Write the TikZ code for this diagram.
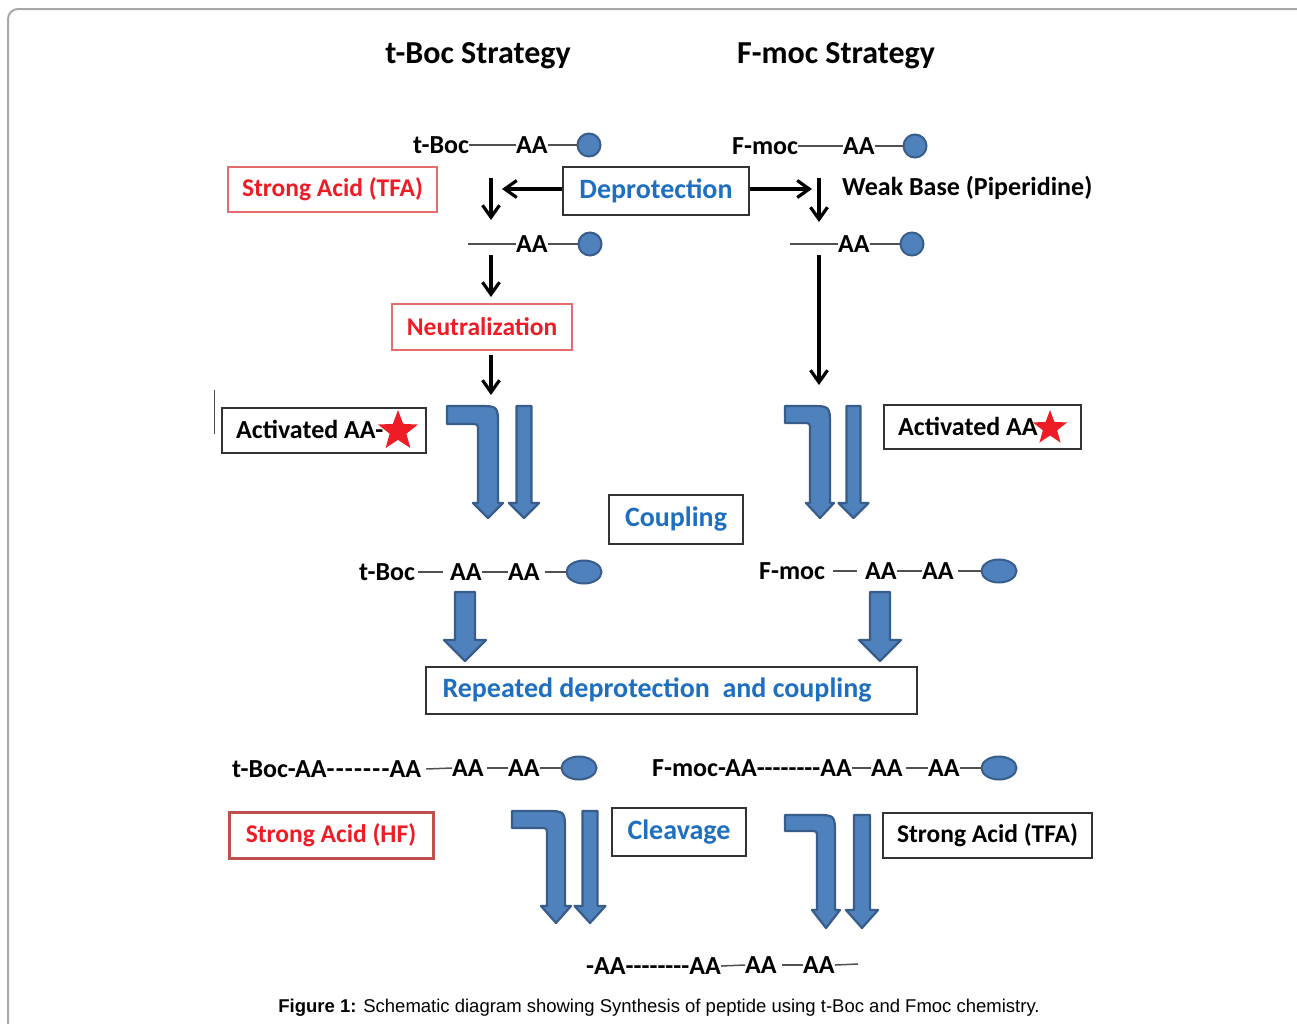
\documentclass[tikz,border=0pt]{standalone}
\usepackage{fontspec}
\setmainfont{Carlito}
\newfontfamily\capfont{Liberation Sans}
\usetikzlibrary{arrows.meta,shapes.geometric}

\definecolor{ttred}{HTML}{EE1C25}
\definecolor{boxred}{HTML}{E36C6C}
\definecolor{hfred}{HTML}{C0504D}
\definecolor{ttblue}{HTML}{1F6FC0}
\definecolor{arrowfill}{HTML}{4F81BD}
\definecolor{arrowedge}{HTML}{385D8A}
\definecolor{bondgray}{HTML}{505050}
\definecolor{framegray}{HTML}{A8A8A8}

% single hyphen kept apart from its neighbours (no dash ligatures)
\newcommand{\hy}{\mbox{-}}
\newcommand{\hyw}{\mbox{-}\kern1.2pt}
% bent block arrow: left end, top, bar thickness, shaft centre, shaft half width,
% head half width, head start, tip
\newcommand{\bentblock}[8]{%
  \draw[blockarrow] (#1,#2) -- ({#4+#5-20},#2) .. controls ({#4+#5},#2) .. ({#4+#5},{#2+20})
    -- ({#4+#5},#7) -- ({#4+#6},#7) -- (#4,#8) -- ({#4-#6},#7) -- ({#4-#5},#7)
    -- ({#4-#5},{#2+#3+7}) .. controls ({#4-#5},{#2+#3}) .. ({#4-#5-7},{#2+#3})
    -- (#1,{#2+#3}) -- cycle;}
% straight block arrow: shaft centre, shaft half width, head half width, top, head start, tip
\newcommand{\straightblock}[6]{%
  \draw[blockarrow] ({#1-#2},#4) -- ({#1+#2},#4) -- ({#1+#2},#5) -- ({#1+#3},#5)
    -- (#1,#6) -- ({#1-#3},#5) -- ({#1-#2},#5) -- cycle;}

\begin{document}
\begin{tikzpicture}[x=1pt,y=-1pt,
  chem/.style={inner sep=0pt, anchor=west, font=\fontsize{26}{29}\selectfont\bfseries},
  heading/.style={inner sep=0pt, font=\fontsize{32}{35}\selectfont\bfseries},
  bondline/.style={draw=bondgray, line width=1.5pt},
  bead/.style={circle, draw=arrowedge, fill=arrowfill, line width=2pt, minimum size=23pt, inner sep=0pt},
  flatbead/.style={ellipse, draw=arrowedge, fill=arrowfill, line width=2pt, minimum width=35pt, minimum height=23pt, inner sep=0pt},
  plainbox/.style={draw=black!80, line width=1.2pt, inner sep=0pt, fill=white},
  redbox/.style={draw=boxred, line width=1.5pt, inner sep=0pt, text=ttred, font=\fontsize{25.5}{28}\selectfont\bfseries},
  bluetext/.style={inner sep=0pt, text=ttblue, font=\fontsize{28}{32}\selectfont\bfseries},
  bluebox/.style={plainbox, bluetext},
  blackbox/.style={plainbox, font=\fontsize{25.5}{28}\selectfont\bfseries},
  flow/.style={line width=3.2pt, -{Straight Barb[length=12pt,width=17pt,line width=3.2pt]}},
  blockarrow/.style={draw=arrowedge, fill=arrowfill, line width=2.2pt, line join=round},
  redstar/.style={star, star points=5, star point ratio=2.4, fill=ttred, draw=none, inner sep=0pt}
]
\useasboundingbox (0,0) rectangle (1297,1023);
\fill[white] (0,0) rectangle (1297,1023);
\draw[framegray, line width=2pt, rounded corners=10pt] (8,9) rectangle (1330,1050);

% headings
\node[heading] (hboc) at (478,56) {t-Boc Strategy};
\node[heading] (hfmoc) at (836,56) {F-moc Strategy};

% protected amino acids on resin
\node[chem] (tb1) at (413,145) {t-Boc};
\node[chem] (aa1) at (516,145) {AA};
\node[bead] (bd1) at (589,145) {};
\draw[bondline] (tb1.east) -- (aa1.west);
\draw[bondline] (aa1.east) -- (bd1.west);

\node[chem] (fm1) at (732,146) {F-moc};
\node[chem] (aa2) at (843,146) {AA};
\node[bead] (bd2) at (915,146) {};
\draw[bondline] (fm1.east) -- (aa2.west);
\draw[bondline] (aa2.east) -- (bd2.west);

% deprotection
\node[redbox, minimum width=209pt, minimum height=45pt] (sa1) at (332.5,189.5) {Strong Acid (TFA)};
\node[bluebox, minimum width=186pt, minimum height=48pt] (dep) at (656,191) {Deprotection};
\node[chem] (wb) at (842,188) {Weak Base (Piperidine)};

\coordinate (l1a) at (491,178);
\coordinate (l1b) at (491,220);
\coordinate (r1a) at (819,178);
\coordinate (r1b) at (819,222);
\coordinate (depl) at (502,189);
\coordinate (depr) at (812,189);
\draw[flow] (l1a) -- (l1b);
\draw[flow] (r1a) -- (r1b);
\draw[flow] (dep.west |- depl) -- (depl);
\draw[flow] (dep.east |- depr) -- (depr);

% free amines
\coordinate (n1) at (468,244);
\node[chem] (aa3) at (516,244) {AA};
\node[bead] (bd3) at (590,244) {};
\draw[bondline] (n1) -- (aa3.west);
\draw[bondline] (aa3.east) -- (bd3.west);

\coordinate (n2) at (790,244);
\node[chem] (aa4) at (838,244) {AA};
\node[bead] (bd4) at (912,244) {};
\draw[bondline] (n2) -- (aa4.west);
\draw[bondline] (aa4.east) -- (bd4.west);

% neutralization
\node[redbox, minimum width=180pt, minimum height=46pt] (neut) at (482,327) {Neutralization};
\coordinate (l2a) at (491,255);
\coordinate (l2b) at (491,297);
\coordinate (l3a) at (491,355);
\coordinate (l3b) at (491,395);
\coordinate (r2a) at (819,255);
\coordinate (r2b) at (819,385);
\draw[flow] (l2a) -- (l2b);
\draw[flow] (l3a) -- (l3b);
\draw[flow] (r2a) -- (r2b);

% activated amino acids
\draw[black!70, line width=1pt] (214,390) -- (214,434);
\node[plainbox, minimum width=204pt, minimum height=45pt] (act1) at (324,430.5) {};
\node[chem] (act1t) at (236,429) {Activated AA-};
\node[redstar, minimum size=42pt] (st1) at (398,431) {};

\node[plainbox, minimum width=197pt, minimum height=44pt] (act2) at (982.5,427) {};
\node[chem] (act2t) at (898,426) {Activated AA};
\node[redstar, minimum size=36pt] (st2) at (1050,428) {};

% coupling
\bentblock{447}{406}{18}{488}{10}{15}{503}{518}
\straightblock{524}{7.5}{15}{406}{503}{518}
\bentblock{785}{406}{17}{820}{10}{14}{503}{518}
\straightblock{853.5}{7}{15}{406}{503}{518}
\node[bluebox, minimum width=134pt, minimum height=49pt] (coup) at (676,519.5) {Coupling};

% dipeptides
\node[chem] (tb3) at (359,572) {t-Boc};
\node[chem] (aa5) at (450,572) {AA};
\node[chem] (aa6) at (508,572) {AA};
\node[flatbead] (bd5) at (584,572) {};
\draw[bondline] ([xshift=3pt]tb3.east) -- ([xshift=-7pt]aa5.west);
\draw[bondline] (aa5.east) -- (aa6.west);
\draw[bondline] ([xshift=5pt]aa6.east) -- (bd5.west);

\node[chem] (fm3) at (759,571) {F-moc};
\node[chem] (aa7) at (865,571) {AA};
\node[chem] (aa8) at (922,571) {AA};
\node[flatbead] (bd6) at (999,571) {};
\draw[bondline] ([xshift=8pt]fm3.east) -- ([xshift=-8pt]aa7.west);
\draw[bondline] (aa7.east) -- (aa8.west);
\draw[bondline] ([xshift=4pt]aa8.east) -- (bd6.west);

% repetition
\straightblock{465}{10}{21}{592}{640}{661}
\straightblock{880}{10}{21}{592}{640}{661}
\node[plainbox, minimum width=491pt, minimum height=47pt] (rep) at (671.5,690.5) {};
\node[bluetext] (rept) at (657,690.5) {Repeated deprotection\ \ and coupling};

% full peptide chains
\node[chem] (ch1) at (232,769) {t-Boc-AA\hyw\hyw\hyw\hyw\hyw\hyw\hy AA};
\node[chem] (aa9) at (452,768) {AA};
\node[chem] (aa10) at (508,768) {AA};
\node[flatbead] (bd7) at (579,768) {};
\draw[bondline] ([xshift=5pt]ch1.east) -- (aa9.west);
\draw[bondline] ([xshift=3pt]aa9.east) -- (aa10.west);
\draw[bondline] (aa10.east) -- (bd7.west);

\node[chem] (ch2) at (652,768) {F-moc-AA\hy\hy\hy\hy\hy\hy\hy\hy AA};
\node[chem] (aa11) at (871,768) {AA};
\node[chem] (aa12) at (928,768) {AA};
\node[flatbead] (bd8) at (999,768) {};
\draw[bondline] (ch2.east) -- (aa11.west);
\draw[bondline] ([xshift=3pt]aa11.east) -- (aa12.west);
\draw[bondline] (aa12.east) -- (bd8.west);

% cleavage
\node[redbox, draw=hfred, line width=3pt, minimum width=204pt, minimum height=46pt] (hf) at (331,835) {Strong Acid (HF)};
\bentblock{512}{811}{17}{556}{9}{15}{906}{923}
\straightblock{590}{7.5}{15.5}{811}{906}{923}
\node[bluebox, minimum width=134pt, minimum height=48pt] (clv) at (679,832) {Cleavage};
\bentblock{785}{815}{16}{826}{9}{14}{910}{928}
\straightblock{862}{8}{16}{815}{910}{928}
\node[blackbox, minimum width=209pt, minimum height=45pt] (sa2) at (987.5,835.5) {Strong Acid (TFA)};

% free peptide
\node[chem] (ch3) at (586,966) {\hy AA\hy\hy\hy\hy\hy\hy\hy\hy AA};
\node[chem] (aa13) at (745,965) {AA};
\node[chem] (aa14) at (803,965) {AA};
\coordinate (pend) at (858,964);
\draw[bondline] (ch3.east) -- (aa13.west);
\draw[bondline] ([xshift=5pt]aa13.east) -- (aa14.west);
\draw[bondline] (aa14.east) -- (pend);

% caption
\node[inner sep=0pt, font=\capfont\fontsize{18.5}{22}\selectfont] (cap) at (659,1008)
  {\textbf{Figure 1:} Schematic diagram showing Synthesis of peptide using t-Boc and Fmoc chemistry.};
\end{tikzpicture}
\end{document}
